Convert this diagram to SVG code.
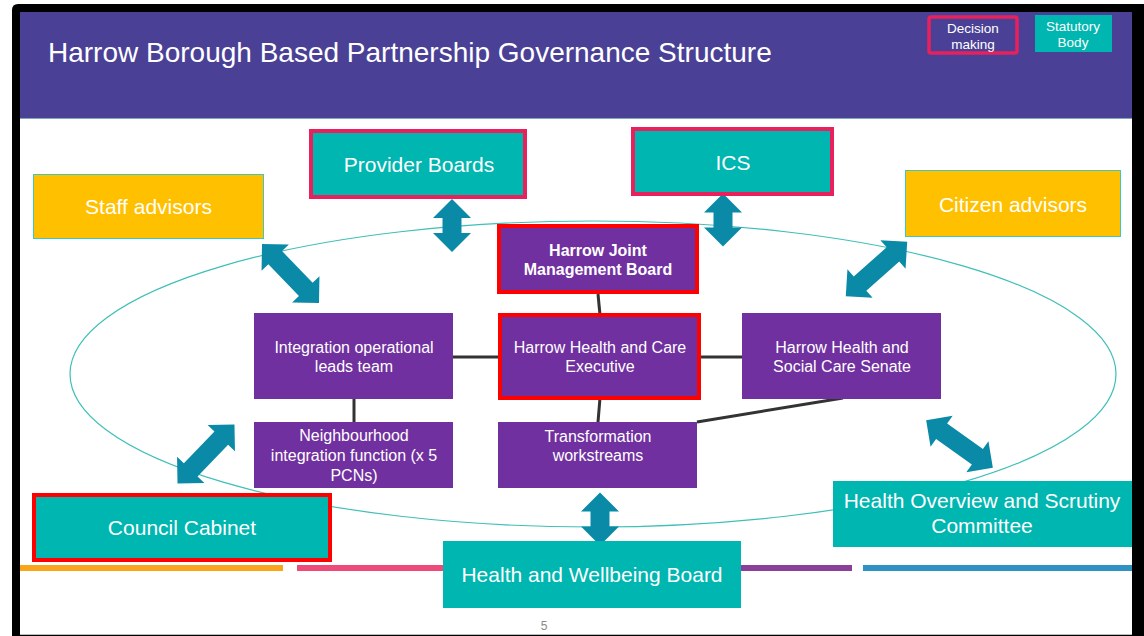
<svg xmlns="http://www.w3.org/2000/svg" xmlns:xlink="http://www.w3.org/1999/xlink" width="1144" height="636" viewBox="0 0 1144 636">
  <style>
    .t { font-family: "Liberation Sans", Arial, sans-serif; fill: #ffffff; text-anchor: middle; }
    .big { font-size: 21px; }
    .mid { font-size: 16px; }
    .bold { font-weight: bold; }
    .leg { font-size: 13.5px; }
    .teal { fill: #00B6B0; }
    .purple { fill: #7030A0; }
    .yellow { fill: #FFC000; stroke: #3CC8C0; stroke-width: 1; }
    .decision { stroke: #E8215C; stroke-width: 4; }
    .red { stroke: #FF0000; stroke-width: 4; }
    .link { stroke: #333333; stroke-width: 3; fill: none; stroke-linecap: butt; }
    .dbl { fill: #0A8AA7; }
  </style>
  <defs>
    <!-- double-headed block arrows, centred on the origin, along the x axis -->
    <path id="arrow-s" d="M -26.5 0 L -7.5 -19 L -7.5 -9.5 L 7.5 -9.5 L 7.5 -19 L 26.5 0 L 7.5 19 L 7.5 9.5 L -7.5 9.5 L -7.5 19 Z"/>
    <path id="arrow-l" d="M -41 0 L -22 -19 L -22 -9.5 L 22 -9.5 L 22 -19 L 41 0 L 22 19 L 22 9.5 L -22 9.5 L -22 19 Z"/>
  </defs>

  <!-- window frame and slide -->
  <rect x="0" y="0" width="1144" height="636" fill="#ffffff"/>
  <path d="M 12 636 L 12 10 Q 12 4 18 4 L 1144 4 L 1144 636 Z" fill="#000000"/>
  <rect x="20" y="12" width="1112" height="622" fill="#ffffff"/>
  <line x1="20" y1="634.5" x2="1132" y2="634.5" stroke="#bdbdbd" stroke-width="1"/>

  <!-- header band -->
  <rect x="20" y="12" width="1112" height="107" fill="#4A4196"/>
  <line x1="20" y1="118.5" x2="1132" y2="118.5" stroke="#7FA9B8" stroke-width="1"/>
  <text class="t" x="48" y="62" style="text-anchor:start; font-size:28px">Harrow Borough Based Partnership Governance Structure</text>

  <!-- key -->
  <g id="key-decision">
    <rect x="929" y="17" width="88" height="36" rx="2" fill="none" class="decision" style="stroke-width:3.5"/>
    <text class="t leg" x="973" y="33">Decision</text>
    <text class="t leg" x="973" y="49">making</text>
  </g>
  <g id="key-statutory">
    <rect x="1035" y="15" width="77" height="37" class="teal"/>
    <text class="t leg" x="1073" y="31">Statutory</text>
    <text class="t leg" x="1073" y="47">Body</text>
  </g>

  <!-- boundary of the partnership -->
  <ellipse cx="593" cy="374" rx="523" ry="153" fill="none" stroke="#3EBFB8" stroke-width="1.2"/>

  <!-- footer colour bars -->
  <g id="footer-bars">
    <rect x="20" y="565" width="263" height="6" fill="#F8A51B"/>
    <rect x="297" y="565" width="150" height="6" fill="#EE4B7A"/>
    <rect x="738" y="565" width="114" height="6" fill="#8C3F98"/>
    <rect x="863" y="565" width="269" height="6" fill="#2E93C2"/>
  </g>

  <!-- connectors -->
  <g id="connectors">
    <line class="link" x1="598" y1="294" x2="600" y2="315"/>
    <line class="link" x1="453" y1="357" x2="500" y2="357"/>
    <line class="link" x1="699" y1="357" x2="742" y2="357"/>
    <line class="link" x1="354" y1="399" x2="354" y2="422"/>
    <line class="link" x1="600" y1="398" x2="598" y2="422"/>
    <line class="link" x1="697" y1="422" x2="843" y2="398"/>
    <use href="#arrow-s" class="dbl" transform="translate(452 225.5) rotate(90)"/>
    <use href="#arrow-s" class="dbl" transform="translate(723 220) rotate(90)"/>
    <use href="#arrow-s" class="dbl" transform="translate(600 519) rotate(90)"/>
    <use href="#arrow-l" class="dbl" transform="translate(290.5 273.5) rotate(46)"/>
    <use href="#arrow-l" class="dbl" transform="translate(876.5 269) rotate(-41.5)"/>
    <use href="#arrow-l" class="dbl" transform="translate(206 454) rotate(-46)"/>
    <use href="#arrow-l" class="dbl" transform="translate(959.5 444) rotate(35.6)"/>
  </g>

  <!-- nodes -->
  <g id="provider-boards">
    <rect x="311" y="131" width="214" height="66" class="teal decision"/>
    <text class="t big" x="419" y="172">Provider Boards</text>
  </g>
  <g id="ics">
    <rect x="633" y="129" width="199" height="65" class="teal decision"/>
    <text class="t big" x="733" y="170">ICS</text>
  </g>
  <g id="staff-advisors">
    <rect x="33.5" y="174.5" width="230" height="64" class="yellow"/>
    <text class="t big" x="148.5" y="214">Staff advisors</text>
  </g>
  <g id="citizen-advisors">
    <rect x="905.5" y="170.5" width="215" height="66" class="yellow"/>
    <text class="t big" x="1013" y="212">Citizen advisors</text>
  </g>
  <g id="joint-management-board">
    <rect x="499" y="226" width="198" height="66" class="purple red"/>
    <text class="t mid bold" x="598" y="256">Harrow Joint</text>
    <text class="t mid bold" x="598" y="275">Management Board</text>
  </g>
  <g id="integration-leads">
    <rect x="254" y="313" width="199" height="86" class="purple"/>
    <text class="t mid" x="354" y="353">Integration operational</text>
    <text class="t mid" x="354" y="372">leads team</text>
  </g>
  <g id="care-executive">
    <rect x="500" y="315" width="199" height="83" class="purple red"/>
    <text class="t mid" x="600" y="353">Harrow Health and Care</text>
    <text class="t mid" x="600" y="372">Executive</text>
  </g>
  <g id="care-senate">
    <rect x="742" y="313" width="199" height="86" class="purple"/>
    <text class="t mid" x="842" y="353">Harrow Health and</text>
    <text class="t mid" x="842" y="372">Social Care Senate</text>
  </g>
  <g id="neighbourhood-integration">
    <rect x="254" y="422" width="199" height="66" class="purple"/>
    <text class="t mid" x="354" y="441">Neighbourhood</text>
    <text class="t mid" x="354" y="461">integration function (x 5</text>
    <text class="t mid" x="354" y="481">PCNs)</text>
  </g>
  <g id="transformation-workstreams">
    <rect x="498" y="422" width="199" height="66" class="purple"/>
    <text class="t mid" x="598" y="442">Transformation</text>
    <text class="t mid" x="598" y="461">workstreams</text>
  </g>
  <g id="council-cabinet">
    <rect x="34" y="495" width="296" height="65" class="teal red"/>
    <text class="t big" x="182" y="535">Council Cabinet</text>
  </g>
  <g id="health-wellbeing-board">
    <rect x="443" y="541" width="298" height="67" class="teal"/>
    <text class="t big" x="592" y="582">Health and Wellbeing Board</text>
  </g>
  <g id="health-overview-scrutiny">
    <rect x="833" y="481" width="299" height="66" class="teal"/>
    <text class="t big" x="982" y="508">Health Overview and Scrutiny</text>
    <text class="t big" x="982" y="533">Committee</text>
  </g>

  <!-- slide number -->
  <text x="544" y="630" style="font-family:'Liberation Sans', Arial, sans-serif; font-size:12px; fill:#8a8a8a; text-anchor:middle">5</text>
</svg>
